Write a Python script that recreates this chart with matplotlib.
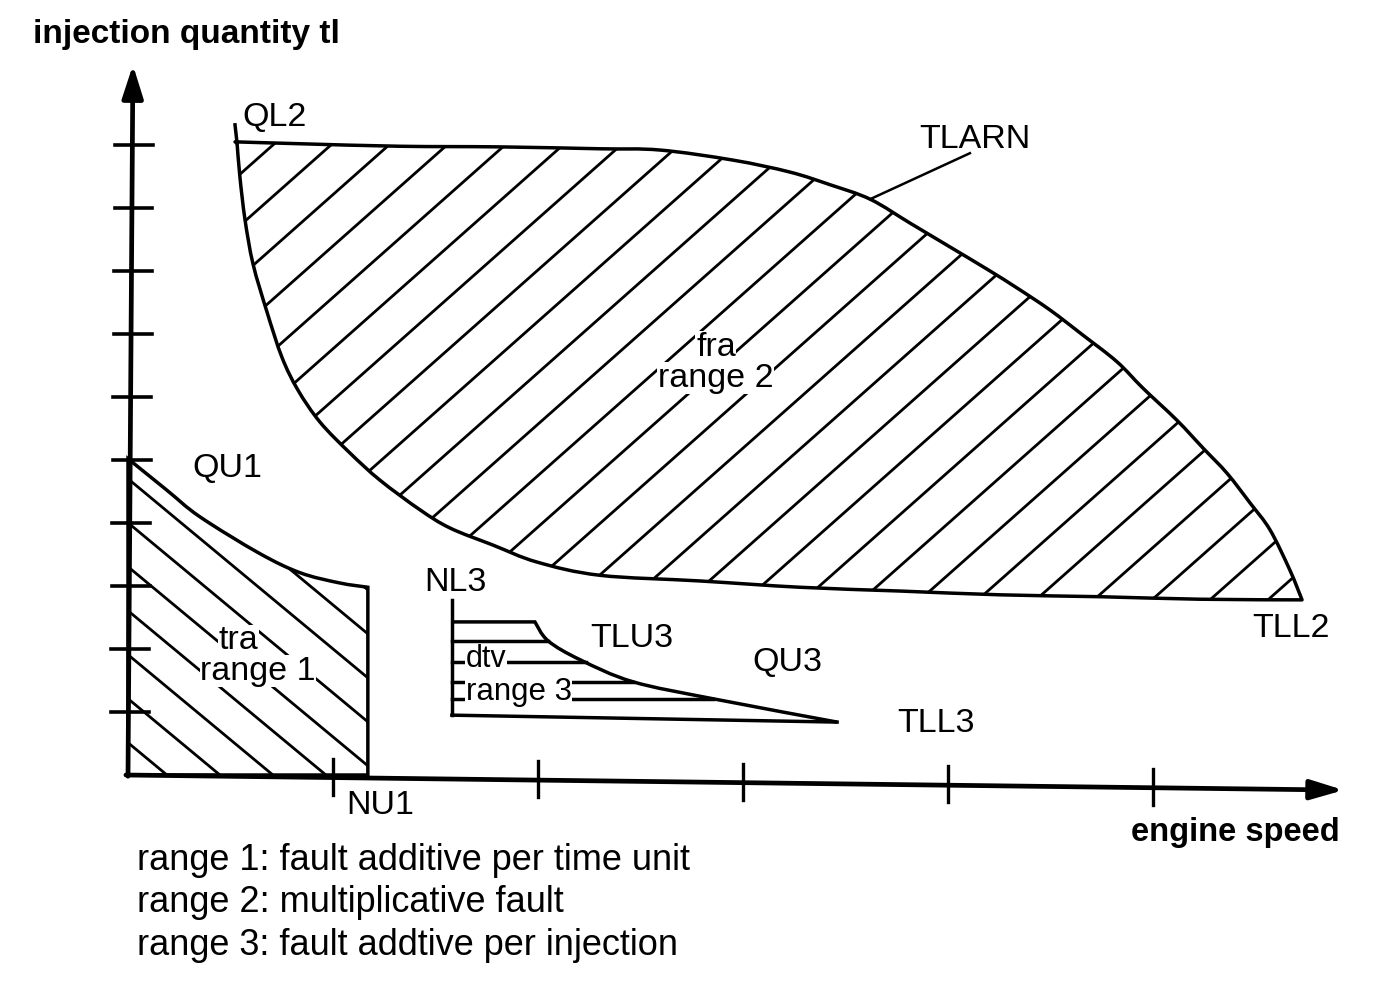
import numpy as np
import matplotlib
matplotlib.use('Agg')
import matplotlib.pyplot as plt
from matplotlib.patches import PathPatch
from matplotlib.path import Path
from matplotlib.collections import LineCollection

plt.rcParams['font.family'] = ['Liberation Sans', 'DejaVu Sans']

# ---------------- data (engine speed units / injection quantity units) -------------
x_ticks = [1, 2, 3, 4, 5]
y_ticks = [1, 2, 3, 4, 5, 6, 7, 8, 9, 10]
x_axis_end = (5.93, -0.24)      # x axis arrow tip (slightly tilted scan)
y_axis_end = (0.024, 11.27)     # y axis arrow tip

# range 1 (tra): QU1 upper limit curve, NU1 right limit
qu1_x = [0.0, 0.19, 0.35, 0.64, 0.84, 1.03, 1.17]
qu1_y = [5.02, 4.52, 4.10, 3.52, 3.21, 3.05, 2.98]
nu1 = 1.17

# range 2 (fra): QL2/TLARN upper boundary (left -> right)
tlarn_x = [0.522, 0.839, 1.327, 1.815, 2.302, 2.595, 2.951, 3.229, 3.424, 3.620,
           3.815, 3.995, 4.190, 4.337, 4.498, 4.659, 4.824, 4.951, 5.117, 5.244,
           5.361, 5.473, 5.571, 5.668, 5.727]
tlarn_y = [10.05, 10.02, 9.98, 9.97, 9.94, 9.92, 9.76, 9.57, 9.37, 9.14,
           8.76, 8.41, 8.03, 7.73, 7.38, 6.98, 6.56, 6.14, 5.63, 5.19,
           4.79, 4.32, 3.89, 3.25, 2.78]
# range 2 lower boundary TLL2 (left -> right)
tll2_x = [0.532, 0.546, 0.571, 0.610, 0.678, 0.751, 0.829, 0.937, 1.083, 1.229,
          1.424, 1.571, 1.780, 1.995, 2.302, 2.790, 3.278, 3.766, 4.254, 4.741,
          5.229, 5.727]
tll2_y = [10.03, 9.49, 8.81, 8.11, 7.35, 6.63, 6.11, 5.60, 5.11, 4.68,
          4.21, 3.92, 3.65, 3.38, 3.17, 3.08, 2.98, 2.92, 2.86, 2.83,
          2.79, 2.78]
ql2_top = 10.32

# range 3 (dtv)
nl3_x = 1.58
nl3_y = [0.95, 2.78]
tlu3_x = [1.58, 1.985, 2.049, 2.205, 2.463, 2.854, 3.459]
tlu3_y = [2.43, 2.43, 2.13, 1.83, 1.48, 1.21, 0.84]
tll3_x = [1.58, 3.459]
tll3_y = [0.95, 0.84]
dtv_levels = [2.13, 1.79, 1.48, 1.21]

legend_lines = ["range 1: fault additive per time unit",
                "range 2: multiplicative fault",
                "range 3: fault addtive per injection"]

# ---------------- figure ----------------
W, H = 1392, 988
fig = plt.figure(figsize=(W / 100, H / 100), dpi=100)
ax = fig.add_axes([0, 0, 1, 1])
px_x, px_y = 205.0, 63.0           # pixels per unit
ox, oy = 128.0, 775.0              # origin in pixels
ax.set_xlim(-ox / px_x, (W - ox) / px_x)
ax.set_ylim(-(H - oy) / px_y, oy / px_y)
ax.axis('off')

LW_AX = 3.4
LW_OUT = 2.5
LW_H = 2.0


def smooth(xs, ys):
    """Catmull-Rom through the points, returned as cubic Bezier vertices."""
    P = np.column_stack([xs, ys]).astype(float)
    n = len(P)
    verts = [P[0]]
    for i in range(n - 1):
        p0 = P[i - 1] if i > 0 else P[i]
        p1, p2 = P[i], P[i + 1]
        p3 = P[i + 2] if i + 2 < n else P[i + 1]
        verts += [p1 + (p2 - p0) / 6.0, p2 - (p3 - p1) / 6.0, p2]
    codes = [Path.MOVETO] + [Path.CURVE4] * (3 * (n - 1))
    return verts, codes


def hatch(patch, slope_px, x0, spacing, yref, n_lo, n_hi):
    slope = slope_px * px_x / px_y
    segs = []
    for k in range(n_lo, n_hi):
        xc = x0 + k * spacing
        ys = np.array([-5.0, 15.0])
        xs = xc + (ys - yref) / slope
        segs.append(np.column_stack([xs, ys]))
    lc = LineCollection(segs, colors='k', linewidths=LW_H, zorder=1)
    ax.add_collection(lc)
    lc.set_clip_path(patch)


# range 2
v1, c1 = smooth(tlarn_x, tlarn_y)
v2, c2 = smooth(tll2_x[::-1], tll2_y[::-1])
c2 = [Path.LINETO] + c2[1:]
r2_path = Path(v1 + v2 + [v1[0]], c1 + c2 + [Path.CLOSEPOLY])
r2 = PathPatch(r2_path, fill=False, edgecolor='k', lw=LW_OUT, zorder=2,
               joinstyle='round')
ax.add_patch(r2)
hatch(r2, 0.886, 0.707, 0.283, 10.0, -3, 36)
ax.plot([tll2_x[0], tll2_x[0] - 0.01], [tll2_y[0], ql2_top], color='k', lw=LW_OUT)

# range 1
vq, cq = smooth(qu1_x, qu1_y)
r1_verts = [(0, 0)] + vq + [(nu1, 0), (0, 0)]
r1_codes = [Path.MOVETO, Path.LINETO] + cq[1:] + [Path.LINETO, Path.CLOSEPOLY]
r1 = PathPatch(Path(r1_verts, r1_codes), fill=False, edgecolor='k', lw=LW_OUT,
               zorder=2)
ax.add_patch(r1)
hatch(r1, -0.83, 0.19, 0.2585, 0.0, -2, 14)

# range 3
vt, ct = smooth(tlu3_x[1:], tlu3_y[1:])
tlu3_path = Path([(tlu3_x[0], tlu3_y[0])] + vt,
                 [Path.MOVETO, Path.LINETO] + ct[1:])
ax.add_patch(PathPatch(tlu3_path, fill=False, edgecolor='k', lw=LW_OUT, zorder=2))
ax.plot(tll3_x, tll3_y, color='k', lw=LW_OUT, zorder=5)
ax.plot([nl3_x, nl3_x], nl3_y, color='k', lw=LW_OUT, zorder=5)
for i, lv in enumerate(dtv_levels):
    xe = np.interp(lv, tlu3_y[::-1], tlu3_x[::-1])
    ax.plot([nl3_x, xe], [lv, lv], color='k', lw=LW_OUT, zorder=4 if i == 0 else 2)

# TLARN leader
ax.plot([3.620, 4.107], [9.14, 9.87], color='k', lw=1.8)

# axes
ax.annotate('', xy=x_axis_end, xytext=(-0.01, 0),
            arrowprops=dict(arrowstyle='-|>,head_length=1.0,head_width=0.3',
                            lw=LW_AX, color='k', shrinkA=0, shrinkB=0,
                            mutation_scale=20), zorder=6)
ax.annotate('', xy=y_axis_end, xytext=(0, -0.02),
            arrowprops=dict(arrowstyle='-|>,head_length=1.0,head_width=0.32',
                            lw=LW_AX, color='k', shrinkA=0, shrinkB=0,
                            mutation_scale=20), zorder=6)
for t in x_ticks:
    ya = x_axis_end[1] * t / x_axis_end[0]
    ax.plot([t, t], [ya - 0.27, ya + 0.30], color='k', lw=2.4, zorder=6)
for t in y_ticks:
    xa = y_axis_end[0] * t / y_axis_end[1]
    ax.plot([xa - 0.085, xa + 0.10], [t, t], color='k', lw=2.6, zorder=6)

# text
FS = 24.5
wb = dict(facecolor='white', edgecolor='none', pad=0.5)
ax.text(-0.463, 11.75, 'injection quantity tl', fontsize=24, fontweight='bold',
        ha='left', va='center')
ax.text(5.912, -0.905, 'engine speed', fontsize=23.5, fontweight='bold',
        ha='right', va='center')
ax.text(0.717, 10.44, 'QL2', fontsize=FS, ha='center', va='center')
ax.text(4.132, 10.08, 'TLARN', fontsize=FS, ha='center', va='center')
ax.text(2.868, 6.79, 'fra', fontsize=FS, ha='center', va='center', bbox=wb, zorder=3)
ax.text(2.868, 6.30, 'range 2', fontsize=FS, ha='center', va='center', bbox=wb, zorder=3)
ax.text(0.483, 4.87, 'QU1', fontsize=FS, ha='center', va='center')
ax.text(1.595, 3.05, 'NL3', fontsize=FS, ha='center', va='center')
ax.text(5.673, 2.33, 'TLL2', fontsize=FS, ha='center', va='center')
ax.text(0.537, 2.13, 'tra', fontsize=FS, ha='center', va='center', bbox=wb, zorder=3)
ax.text(0.634, 1.65, 'range 1', fontsize=FS, ha='center', va='center', bbox=wb, zorder=3)
ax.text(2.459, 2.17, 'TLU3', fontsize=FS, ha='center', va='center')
ax.text(3.215, 1.78, 'QU3', fontsize=FS, ha='center', va='center')
ax.text(1.745, 1.84, 'dtv', fontsize=22, ha='center', va='center', bbox=wb, zorder=3)
ax.text(1.905, 1.31, 'range 3', fontsize=22.5, ha='center', va='center', bbox=wb, zorder=3)
ax.text(3.751, 0.81, 'TLL3', fontsize=FS, ha='left', va='center')
ax.text(1.229, -0.49, 'NU1', fontsize=FS, ha='center', va='center')
for i, s in enumerate(legend_lines):
    ax.text(0.044, -1.35 - 0.68 * i, s, fontsize=26, ha='left', va='center')

fig.savefig('out.png', dpi=100, facecolor='white')
